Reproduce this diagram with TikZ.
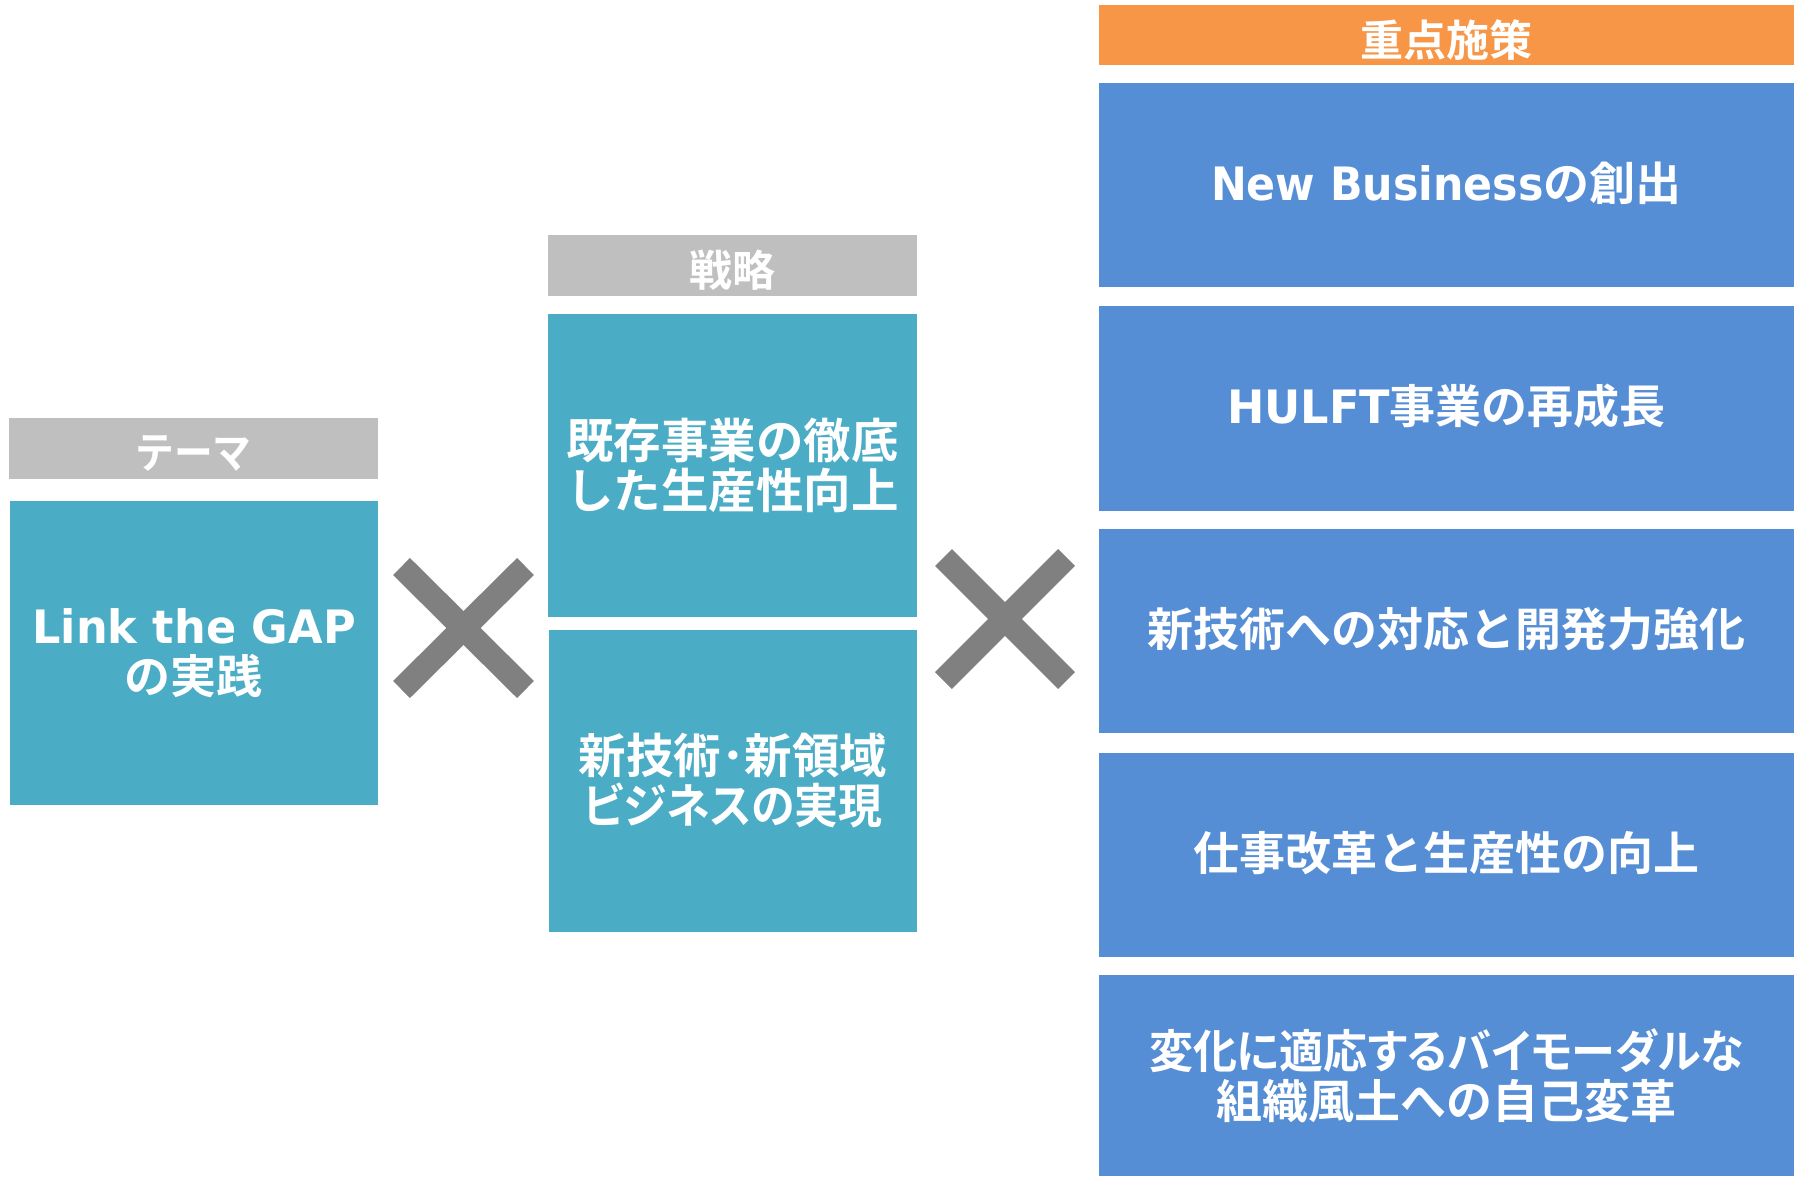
\documentclass[tikz,border=0pt]{standalone}
\usepackage{fontspec}
\setmainfont{Noto Sans CJK JP}[BoldFont={Noto Sans CJK JP Bold}]
\newfontfamily\latA{DejaVu Sans}[FakeStretch=0.97]
\newfontfamily\latB{DejaVu Sans}[FakeStretch=0.93]
\newcommand\pk[1]{{\addfontfeature{RawFeature=+palt}#1}}
\newcommand\shv[2]{\raisebox{#1}[\height][\depth]{#2}}
\newcommand\hsq[2]{\scalebox{#1}[1]{#2}}
\definecolor{hdrgray}{HTML}{BFBFBF}
\definecolor{tealc}{HTML}{4BACC6}
\definecolor{bluec}{HTML}{558ED5}
\definecolor{orangec}{HTML}{F79646}
\definecolor{xgray}{HTML}{808080}
\tikzset{
  base/.style={rectangle, inner sep=0pt, outer sep=0pt, text=white, align=center},
  hdr/.style={base, fill=hdrgray, minimum width=369pt, minimum height=61pt, font=\bfseries\fontsize{43}{45}\selectfont},
  ohdr/.style={base, fill=orangec, minimum width=695pt, minimum height=60pt, font=\bfseries\fontsize{43}{45}\selectfont},
  tbox/.style={base, fill=tealc, minimum width=368pt, font=\bfseries\fontsize{46}{50}\selectfont},
  mbox/.style={base, fill=tealc, minimum width=368pt, font=\bfseries\fontsize{47.5}{50}\selectfont},
  bbox/.style={base, fill=bluec, minimum width=695pt, font=\bfseries\fontsize{46}{50}\selectfont},
  xbar/.style={draw=xgray, line width=24pt, line cap=butt}
}
\begin{document}
\begin{tikzpicture}[x=1pt,y=-1pt]
\useasboundingbox[fill=white] (0,0) rectangle (1797,1176);
% left column
\node[hdr] (themeH) at (193.5,448.5) {\shv{-5pt}{\hsq{0.9}{テーマ}}};
\node[tbox, minimum height=304pt] (theme) at (194,653) {{\latA Link the GAP}\\の実践};
% middle column
\node[hdr] (stratH) at (732.5,265.5) {\shv{-5pt}{戦略}};
\node[mbox, minimum width=369pt, minimum height=303pt] (strat1) at (732.5,465.5) {既存事業の徹底\\した生産性向上};
\node[mbox, minimum height=302pt] (strat2) at (733,781) {新技術･新領域\\\hsq{0.925}{\pk{ビジネスの実現}}};
% right column
\node[ohdr] (focusH) at (1446.5,35) {\shv{-5pt}{重点施策}};
\node[bbox, minimum height=204pt] (f1) at (1446.5,185) {\shv{2pt}{{\latB New Business}の創出}};
\node[bbox, minimum height=205pt] (f2) at (1446.5,408.5) {\shv{2pt}{{\latA HULFT}事業の再成長}};
\node[bbox, minimum height=204pt] (f3) at (1446.5,631) {\shv{2pt}{新技術への対応と開発力強化}};
\node[bbox, minimum height=204pt] (f4) at (1446.5,855) {\shv{2pt}{仕事改革と生産性の向上}};
\node[bbox, minimum height=201pt] (f5) at (1446.5,1075.5) {\hsq{0.957}{\pk{変化に適応するバイモーダルな}}\\組織風土への自己変革};
% crosses
\coordinate (x1a) at (401.5,566.5);
\coordinate (x1b) at (525.5,689.5);
\coordinate (x1c) at (401.5,689.5);
\coordinate (x1d) at (525.5,566.5);
\draw[xbar] (x1a) -- (x1b);
\draw[xbar] (x1c) -- (x1d);
\coordinate (x2a) at (943.5,557.5);
\coordinate (x2b) at (1066.5,680.5);
\coordinate (x2c) at (943.5,680.5);
\coordinate (x2d) at (1066.5,557.5);
\draw[xbar] (x2a) -- (x2b);
\draw[xbar] (x2c) -- (x2d);
\end{tikzpicture}
\end{document}
